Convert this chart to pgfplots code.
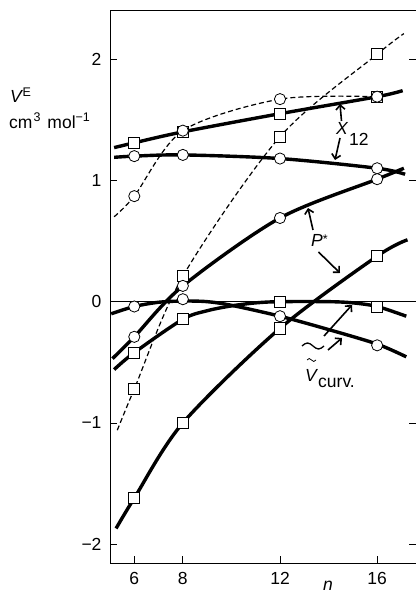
\documentclass[border=0pt]{standalone}
\usepackage{pgfplots}
\pgfplotsset{compat=1.18}
\usepackage{fontspec}
\setmainfont{Liberation Sans}
\usetikzlibrary{arrows.meta}
\newcommand\fs{\fontsize{17.5}{20}\selectfont}
\newcommand\fss{\fontsize{12.5}{14}\selectfont}
\begin{document}
\begin{tikzpicture}
\begin{axis}[
  at={(110pt,31pt)}, anchor=south west,
  scale only axis, width=306pt, height=553pt,
  xmin=5, xmax=17.6, ymin=-2.155, ymax=2.405,
  axis line style={line width=0.8pt},
  every tick/.style={line width=0.8pt, black},
  tick align=inside,
  xtick pos=bottom, ytick pos=both,
  major tick length=7pt,
  xtick={6,8,12,16}, xticklabels={6,8,12,16},
  ytick={-2,-1,0,1,2}, yticklabels={−2,−1,0,1,2},
  tick label style={font=\fs},
  yticklabel style={xshift=-5pt},
  xticklabel style={yshift=-6pt},
  clip=false,
  thk/.style={line width=3.4pt, smooth, no markers, black},
  dsh/.style={line width=1.2pt, dash pattern=on 5pt off 3pt, smooth, no markers, black},
  sq/.style={only marks, mark=square*, mark size=5.6pt, mark options={fill=white, draw=black, line width=0.8pt, solid}},
  ci/.style={only marks, mark=*, mark size=5.6pt, mark options={fill=white, draw=black, line width=0.8pt, solid}},
]
% zero reference line
\addplot[line width=1.6pt, no markers] coordinates {(5,0) (15,0)};
\addplot[line width=0.8pt, no markers] coordinates {(15,0) (17.6,0)};
% dashed curves
\addplot[dsh] coordinates {(5.17,0.70) (6,0.87) (8,1.41) (12,1.67) (16,1.69)};
\addplot[dsh] coordinates {(5.3,-1.06) (6,-0.72) (8,0.21) (12,1.36) (16,2.04) (17.1,2.21)};
% thick curves
\addplot[thk] coordinates {(5.17,1.27) (6,1.31) (8,1.40) (12,1.55) (16,1.69) (17.05,1.74)};
\addplot[thk] coordinates {(5.17,1.19) (6,1.20) (8,1.21) (12,1.18) (16,1.10) (17.15,1.05)};
\addplot[thk] coordinates {(5.1,-0.47) (6,-0.29) (8,0.13) (12,0.69) (16,1.01) (17.1,1.10)};
\addplot[thk] coordinates {(5.25,-1.87) (6,-1.62) (8,-1.0) (12,-0.22) (16,0.375) (17.25,0.51)};
\addplot[thk] coordinates {(5.05,-0.10) (6,-0.04) (7,-0.005) (8,0.005) (9,0.0) (10,-0.03) (12,-0.12) (14,-0.23) (16,-0.35) (17.2,-0.455)};
\addplot[thk] coordinates {(5.17,-0.56) (6,-0.42) (8,-0.145) (9,-0.075) (10,-0.035) (11,-0.01) (12,0.0) (14,0.0) (15,-0.01) (16,-0.04) (17.2,-0.12)};
% square markers
\addplot[sq] coordinates {(6,1.31) (8,1.40) (12,1.55) (16,1.69)};
\addplot[sq] coordinates {(6,-0.72) (8,0.21) (12,1.36) (16,2.04)};
\addplot[sq] coordinates {(6,-1.62) (8,-1.0) (12,-0.22) (16,0.375)};
\addplot[sq] coordinates {(6,-0.42) (8,-0.145) (12,0.0) (16,-0.04)};
% circle markers
\addplot[ci] coordinates {(6,0.87) (8,1.41) (12,1.67) (16,1.69)};
\addplot[ci] coordinates {(6,1.20) (8,1.21) (12,1.18) (16,1.10)};
\addplot[ci] coordinates {(6,-0.29) (8,0.13) (12,0.69) (16,1.01)};
\addplot[ci] coordinates {(6,-0.04) (8,0.02) (12,-0.12) (16,-0.36)};
\end{axis}
% axis titles
\node[anchor=base west, inner sep=0pt, font=\fs] at (10pt,491pt) {\textit{V}\kern-0.5pt\raisebox{6.5pt}{\fss E}};
\node[anchor=base west, inner sep=0pt, font=\fs] at (9pt,465pt) {cm\kern1pt\raisebox{7pt}{\fss 3}\hspace{7pt}mol\raisebox{7pt}{\fss −1}};
\node[anchor=base west, inner sep=0pt, font=\fs] at (323pt,4pt) {\textit{n}};
% annotations
\node[anchor=base west, inner sep=0pt, font=\fs] at (336pt,459pt) {\textit{X}};
\node[anchor=base west, inner sep=0pt, font=\fs] at (349pt,448pt) {12};
\node[anchor=base west, inner sep=0pt, font=\fs] at (311pt,347pt) {\textit{P}\raisebox{3pt}{\fss *}};
\node[anchor=base west, inner sep=0pt, font=\fs] at (305pt,212pt) {\textit{V}};
\node[anchor=base west, inner sep=0pt, font=\fs] at (318pt,206pt) {curv.};
\draw[line width=0.8pt] (307pt,234pt) sin (309.25pt,235.5pt) cos (311.5pt,234pt) sin (313.75pt,232.5pt) cos (316pt,234pt);
\draw[line width=1.3pt] (302pt,248pt) sin (307.5pt,251pt) cos (313pt,248pt) sin (318.5pt,245pt) cos (324pt,248pt);
\begin{scope}[line width=1.6pt, -{Straight Barb[length=4.5pt,width=9pt]}]
\draw (341.5pt,473pt) -- (340pt,490pt);
\draw (340pt,456pt) -- (335pt,434pt);
\draw (313pt,364pt) -- (308pt,386pt);
\draw (318.5pt,342pt) -- (340pt,321pt);
\draw (324pt,258pt) -- (352pt,289pt);
\draw (328pt,244pt) -- (342pt,256pt);
\end{scope}
\pgfresetboundingbox
\path[use as bounding box] (0pt,0pt) rectangle (415pt,594pt);
\end{tikzpicture}
\end{document}
